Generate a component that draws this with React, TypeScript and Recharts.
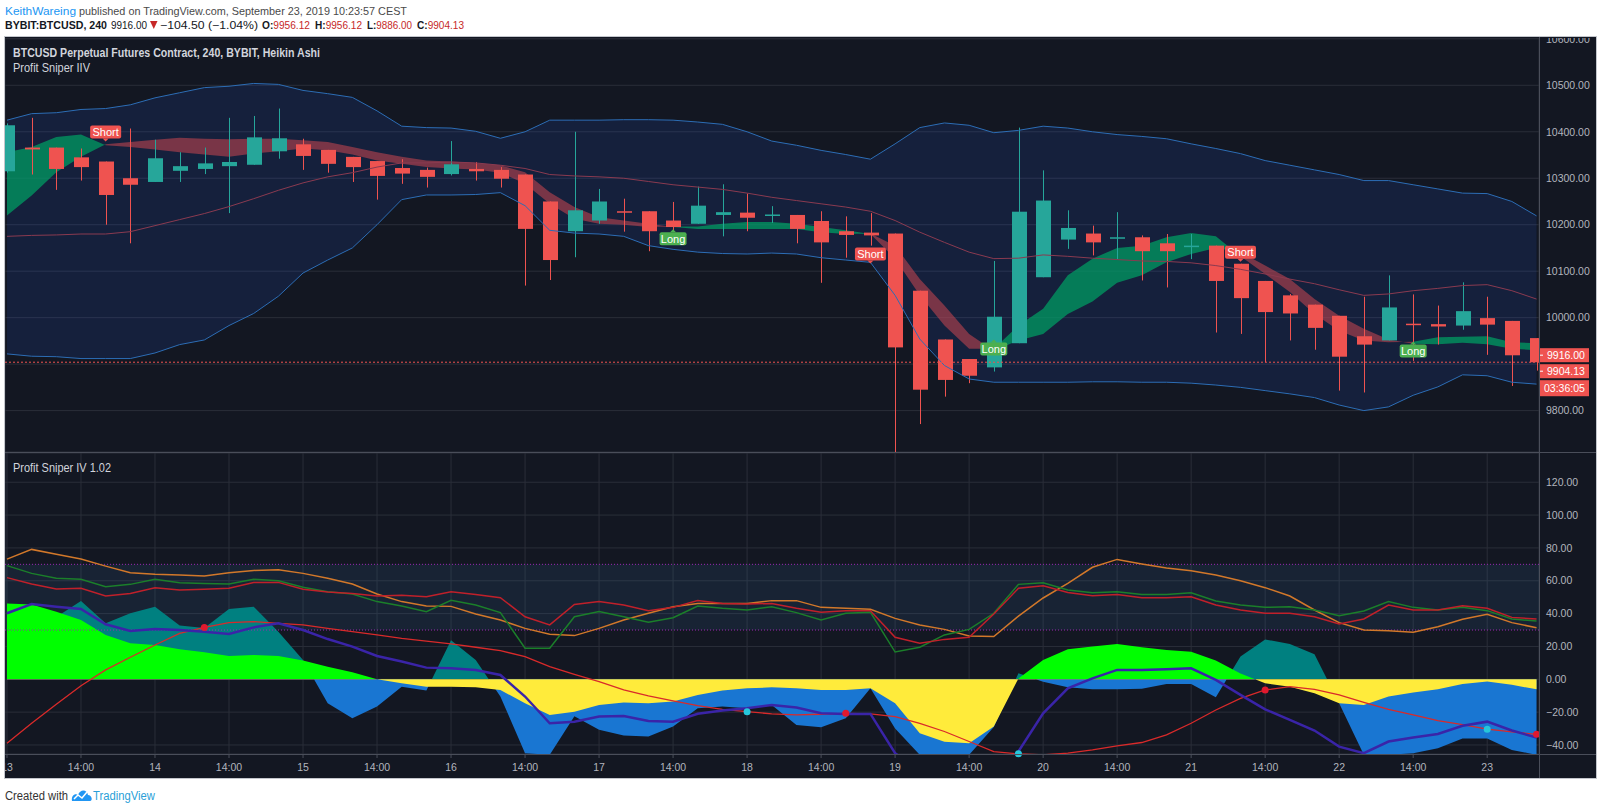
import React from 'react';
import {
  Area,
  Bar,
  CartesianGrid,
  ComposedChart,
  Line,
  ReferenceArea,
  ReferenceDot,
  ReferenceLine,
  XAxis,
  YAxis
} from 'recharts';

const FONT = "'Liberation Sans', Arial, sans-serif";
const BG = '#131722';
const GRID = '#2a2e39';
const SEP = '#4a4e5a';
const AXIS_TEXT = '#b2b5be';

// 4h Heikin Ashi bars, 13 Sep → 23 Sep
const barIndex = Array.from({ length: 63 }, (_, i) => i);
const timeTicks = [0, 3, 6, 9, 12, 15, 18, 21, 24, 27, 30, 33, 36, 39, 42, 45, 48, 51, 54, 57, 60];
const timeLabels = ['13', '14:00', '14', '14:00', '15', '14:00', '16', '14:00', '17', '14:00', '18',
  '14:00', '19', '14:00', '20', '14:00', '21', '14:00', '22', '14:00', '23'];

const haOpen = [10315, 10366, 10366, 10345, 10336, 10300, 10292, 10316, 10320, 10326, 10329, 10358, 10373,
  10361, 10346, 10337, 10322, 10318, 10309, 10320, 10318, 10308, 10250, 10186, 10209, 10229, 10229, 10209,
  10202, 10221, 10226, 10219, 10221, 10208, 10186, 10183, 10181, 10058, 9953, 9911, 9893, 9945, 10087,
  10168, 10181, 10170, 10173, 10160, 10152, 10155, 10116, 10079, 10048, 10028, 10004, 9960, 9951, 9987,
  9986, 9983, 9999, 9993, 9956];
const haHigh = [10418, 10430, 10366, 10364, 10336, 10407, 10383, 10356, 10366, 10430, 10434, 10450, 10385,
  10361, 10346, 10337, 10341, 10323, 10380, 10335, 10324, 10308, 10250, 10400, 10277, 10256, 10229, 10249,
  10282, 10287, 10267, 10240, 10221, 10229, 10218, 10225, 10181, 10058, 9953, 9911, 10122, 10409, 10317,
  10231, 10198, 10227, 10177, 10180, 10180, 10155, 10116, 10079, 10051, 10028, 10004, 10045, 10091, 10050,
  10026, 10076, 10045, 9993, 9956];
const haLow = [10312, 10308, 10275, 10295, 10200, 10160, 10292, 10292, 10309, 10225, 10329, 10342, 10318,
  10312, 10292, 10254, 10288, 10280, 10306, 10295, 10280, 10069, 10081, 10130, 10202, 10185, 10143, 10184,
  10202, 10175, 10186, 10204, 10160, 10075, 10129, 10155, 9700, 9771, 9830, 9859, 9884, 9945, 10087, 10148,
  10134, 10126, 10080, 10065, 10126, 9968, 9965, 9904, 9951, 9931, 9843, 9839, 9951, 9907, 9942, 9974, 9920,
  9853, 9886];
const haClose = [10414, 10362, 10320, 10324, 10264, 10286, 10343, 10326, 10332, 10335, 10388, 10386, 10348,
  10331, 10324, 10305, 10310, 10303, 10330, 10315, 10299, 10191, 10124, 10231, 10250, 10226, 10186, 10195,
  10241, 10227, 10215, 10222, 10191, 10162, 10178, 10177, 9936, 9845, 9866, 9875, 10002, 10228, 10252,
  10193, 10162, 10173, 10143, 10143, 10155, 10079, 10042, 10012, 10009, 9978, 9916, 9942, 10022, 9984,
  9981, 10014, 9985, 9919, 9904];

// Bollinger envelope
const bbUpper = [10425, 10439, 10441, 10448, 10450, 10458, 10473, 10484, 10495, 10498, 10504, 10502, 10489,
  10482, 10474, 10445, 10412, 10409, 10408, 10401, 10386, 10400, 10425, 10425, 10425, 10426, 10426, 10425,
  10421, 10416, 10400, 10380, 10371, 10360, 10351, 10341, 10374, 10409, 10419, 10414, 10398, 10403, 10412,
  10408, 10400, 10394, 10390, 10385, 10374, 10364, 10353, 10338, 10328, 10318, 10308, 10295, 10295, 10286,
  10277, 10268, 10267, 10250, 10219];
const bbLower = [9922, 9917, 9916, 9912, 9912, 9912, 9924, 9942, 9952, 9983, 10009, 10046, 10096, 10124,
  10150, 10200, 10254, 10264, 10264, 10265, 10269, 10241, 10188, 10182, 10180, 10175, 10155, 10147, 10141,
  10138, 10137, 10139, 10137, 10129, 10124, 10119, 10048, 9954, 9897, 9868, 9861, 9861, 9861, 9861, 9862,
  9862, 9861, 9861, 9859, 9855, 9850, 9843, 9836, 9828, 9812, 9800, 9808, 9833, 9851, 9877, 9875, 9861, 9857];
const bbBasis = [10175, 10177, 10178, 10180, 10180, 10185, 10198, 10211, 10224, 10239, 10256, 10274, 10290,
  10303, 10312, 10324, 10333, 10333, 10335, 10333, 10328, 10321, 10308, 10305, 10303, 10300, 10293, 10286,
  10281, 10276, 10268, 10259, 10252, 10245, 10238, 10229, 10209, 10184, 10162, 10141, 10127, 10128, 10135,
  10132, 10128, 10125, 10122, 10121, 10118, 10112, 10104, 10094, 10083, 10073, 10060, 10048, 10051, 10058,
  10063, 10069, 10071, 10058, 10040];

// Profit Sniper IIV ribbon
const fastMa = [10356, 10367, 10389, 10394, 10371, 10367, 10362, 10356, 10351, 10346, 10353, 10358, 10364,
  10360, 10351, 10338, 10331, 10324, 10321, 10319, 10312, 10288, 10245, 10213, 10202, 10200, 10195, 10196,
  10196, 10202, 10206, 10206, 10202, 10195, 10188, 10180, 10127, 10048, 9983, 9933, 9933, 9983, 10019,
  10091, 10127, 10150, 10155, 10173, 10182, 10175, 10132, 10094, 10055, 10008, 9972, 9951, 9947, 9948, 9958,
  9959, 9960, 9947, 9945];
const slowMa = [10220, 10263, 10313, 10346, 10373, 10378, 10383, 10387, 10385, 10384, 10385, 10385, 10382,
  10378, 10367, 10356, 10346, 10338, 10336, 10333, 10328, 10313, 10270, 10238, 10216, 10209, 10202, 10195,
  10191, 10191, 10191, 10191, 10191, 10184, 10180, 10181, 10155, 10083, 10026, 9965, 9929, 9951, 9965,
  10008, 10035, 10075, 10091, 10119, 10137, 10150, 10141, 10112, 10083, 10040, 10004, 9976, 9953, 9944,
  9943, 9946, 9943, 9933, 9930];

const signalBars = [4, 27, 35, 40, 50, 57];
const signalText = ['Short', 'Long', 'Short', 'Long', 'Short', 'Long'];
const signalPrice = [10399.5, 10170, 10137, 9932.5, 10141, 9928];

const priceTicks = [9800, 9900, 10000, 10100, 10200, 10300, 10400, 10500, 10600];

// Profit Sniper IV 1.02 oscillator
const oscOrange = [73.2, 79.1, 76.1, 73.2, 68.9, 64.9, 63.9, 63.5, 62.9, 64.9, 66.3, 66.7, 64.5, 61.5, 58.0,
  51.9, 47.3, 44.6, 44.4, 39.8, 36.1, 31.0, 27.4, 26.6, 31.0, 36.1, 40.2, 44.2, 46.2, 46.2, 46.2, 47.9, 47.9,
  43.8, 43.2, 42.6, 37.1, 33.1, 30.4, 26.4, 26.0, 38.5, 49.5, 58.4, 68.2, 73.0, 70.2, 67.7, 66.1, 63.5, 60.0,
  55.8, 50.7, 42.2, 34.5, 30.0, 29.6, 28.6, 32.0, 36.5, 39.6, 34.5, 31.4];
const oscGreen = [69.2, 64.5, 61.5, 60.9, 56.4, 57.8, 60.9, 58.8, 58.4, 58.0, 60.9, 60.0, 56.0, 53.3, 51.9,
  47.3, 44.6, 41.2, 48.1, 45.2, 40.6, 18.9, 18.9, 38.1, 41.2, 38.1, 34.7, 37.5, 44.6, 43.2, 42.2, 44.2, 40.6,
  36.1, 40.2, 40.8, 16.6, 19.5, 27.0, 30.4, 40.2, 57.8, 58.8, 54.4, 52.7, 53.3, 51.7, 51.7, 52.7, 47.7, 45.2,
  43.8, 44.2, 42.2, 38.7, 41.6, 47.3, 43.8, 42.2, 43.8, 41.8, 36.7, 35.5];
const oscRed = [61.9, 58.0, 55.0, 55.4, 50.7, 52.3, 55.8, 54.4, 54.8, 55.4, 59.0, 59.0, 54.8, 53.1, 52.3,
  50.7, 51.1, 50.3, 53.3, 51.7, 49.7, 38.1, 33.1, 45.6, 47.3, 45.2, 41.8, 43.8, 47.9, 46.2, 45.8, 46.2, 43.2,
  40.8, 41.8, 41.8, 25.6, 21.9, 24.3, 25.6, 39.8, 55.4, 56.9, 52.9, 50.9, 51.7, 49.7, 49.7, 50.3, 45.2, 42.2,
  40.2, 40.2, 38.1, 33.7, 36.7, 45.2, 42.2, 42.2, 44.8, 43.2, 37.7, 36.7];
const oscPurple = [40.2, 45.8, 44.2, 42.8, 33.5, 29.4, 30.6, 30.0, 29.0, 27.6, 31.6, 34.1, 30.0, 24.5, 19.9,
  14.2, 10.8, 7.1, 6.7, 5.7, 2.6, -10.5, -26.8, -25.8, -22.7, -22.3, -25.4, -25.8, -21.0, -19.0, -17.6,
  -15.6, -17.2, -20.7, -21.1, -21.1, -45.0, -56.0, -60.0, -62.0, -58.0, -44.0, -20.7, -5.5, 0.6, 5.7, 5.7,
  6.1, 6.7, -0.4, -9.5, -18.3, -24.7, -31.2, -41.0, -45.0, -37.9, -35.5, -33.3, -28.3, -25.8, -31.2, -35.5];
const oscSignal = [-38.9, -26.8, -15.2, -3.9, 5.7, 13.4, 20.9, 28.0, 31.6, 34.5, 35.1, 34.1, 33.1, 31.0,
  29.0, 27.0, 24.9, 23.3, 21.5, 19.5, 17.4, 13.8, 7.7, 3.0, -1.4, -6.5, -10.1, -13.2, -16.0, -18.3, -19.7,
  -21.1, -21.7, -21.3, -20.7, -21.1, -22.7, -26.8, -31.8, -37.9, -44.0, -45.4, -46.0, -45.0, -43.0, -40.6,
  -38.5, -33.9, -26.8, -18.7, -11.6, -6.5, -4.5, -6.1, -9.5, -14.0, -18.3, -21.7, -25.2, -27.6, -30.4,
  -32.0, -33.5];
const oscTrend = [46.2, 45.6, 41.2, 36.1, 27.0, 21.9, 20.9, 18.3, 16.4, 14.2, 14.8, 14.2, 11.4, 7.7, 4.3,
  0.0, -2.4, -4.5, -4.5, -4.9, -6.5, -14.6, -21.7, -19.7, -15.6, -14.2, -14.6, -13.6, -9.5, -6.9, -5.5,
  -4.9, -5.5, -6.5, -6.5, -5.5, -14.6, -32.9, -38.0, -39.0, -28.8, 0.5, 11.8, 18.3, 19.9, 21.5, 19.5, 17.8,
  16.8, 11.4, 3.5, -2.4, -4.5, -8.5, -14.6, -15.6, -10.5, -8.1, -6.1, -2.8, -1.4, -3.4, -6.1];
const oscWave = [38, 42, 38, 47.7, 34.1, 40.2, 44.2, 32.7, 31.2, 42.8, 44.2, 29.0, 11.8, -14.6, -23.7, -16.6,
  -4.5, -6.9, 23.7, 11.8, -10.5, -45, -46, -22.5, -30.8, -34.3, -34.9, -28.8, -17.6, -16.6, -17.6, -15.6,
  -27.8, -29.2, -23.7, -5.5, -30, -46, -46, -46, -29, 3.6, -1.5, -4.9, -6.1, -6.1, -5.7, -2.8, -2.8, -11.0,
  13.8, 24.3, 21.5, 15.2, -14.6, -46, -46, -45, -42, -36, -36, -43, -46];

const crossBars = [8, 30, 34, 41, 51, 60, 62];
const crossUp = [false, true, false, true, false, true, false];

const oscTicks = [-40, -20, 0, 20, 40, 60, 80, 100, 120];

// header OHLC groups: label, value, left, right
const ohlcGroups: [string, string, number, number][] = [
  ['O:', '9956.12', 262, 310],
  ['H:', '9956.12', 315, 362],
  ['L:', '9886.00', 367, 412],
  ['C:', '9904.13', 417, 464]
];

// scale windows
const PMIN = 9710.9;
const PMAX = 10601.8;
const OMIN = -45.5;
const OMAX = 137.8;
const XMIN = -0.08;
const XMAX = 62.1;
const ZERO_OFF = OMAX / (OMAX - OMIN);

const priceRows = barIndex.map((i) => {
  const isUp = (k: number) => fastMa[k] >= slowMa[k];
  const band: [number, number] = [slowMa[i], fastMa[i]];
  return {
    i,
    o: haOpen[i],
    h: haHigh[i],
    l: haLow[i],
    c: haClose[i],
    bb: [bbLower[i], bbUpper[i]],
    upper: bbUpper[i],
    lower: bbLower[i],
    basis: bbBasis[i],
    ribbonUp: isUp(i) || (i > 0 && isUp(i - 1)) ? band : null,
    ribbonDn: !isUp(i) || (i > 0 && !isUp(i - 1)) ? band : null
  };
});

const oscRows = barIndex.map((i) => ({
  i,
  orange: oscOrange[i],
  green: oscGreen[i],
  red: oscRed[i],
  purple: oscPurple[i],
  signal: oscSignal[i],
  trend: oscTrend[i],
  wave: oscWave[i]
}));

function Candle(props: any) {
  const { x, y, width, height, payload } = props;
  if (!payload || x == null || y == null) return null;
  const top = Math.min(y, y + height);
  const bot = Math.max(y, y + height);
  const span = payload.h - payload.l;
  const py = (p: number) => (span === 0 ? top : top + ((payload.h - p) / span) * (bot - top));
  const color = payload.c >= payload.o ? '#26a69a' : '#ef5350';
  const cx = Math.round(x + width / 2) + 0.5;
  const bTop = py(Math.max(payload.o, payload.c));
  const bBot = py(Math.min(payload.o, payload.c));
  return (
    <g>
      <line x1={cx} x2={cx} y1={top} y2={bot} stroke={color} strokeWidth={1} />
      <rect x={cx - 7.5} y={bTop} width={15} height={Math.max(1.5, bBot - bTop)} fill={color} />
    </g>
  );
}

function SignalTag({ cx, cy, text }: { cx?: number; cy?: number; text: string }) {
  if (cx == null || cy == null) return null;
  const isShort = text === 'Short';
  const w = isShort ? 31 : 27;
  const h = 13;
  const fill = isShort ? '#ef5350' : '#4caf50';
  const tip = isShort
    ? `M${cx - 3},${cy + h / 2} L${cx + 3},${cy + h / 2} L${cx},${cy + h / 2 + 3} Z`
    : `M${cx - 3},${cy - h / 2} L${cx + 3},${cy - h / 2} L${cx},${cy - h / 2 - 3} Z`;
  return (
    <g>
      <rect x={cx - w / 2} y={cy - h / 2} width={w} height={h} rx={2} fill={fill} />
      <path d={tip} fill={fill} />
      <text x={cx} y={cy} dy='0.35em' textAnchor='middle' fontSize={11} fill='#ffffff' fontFamily={FONT}>
        {text}
      </text>
    </g>
  );
}

function PriceTag(props: any) {
  const { viewBox, text, shift, countdown } = props;
  if (!viewBox) return null;
  const left = viewBox.x + viewBox.width;
  const cy = viewBox.y + shift;
  return (
    <g>
      <rect x={left} y={cy - 7} width={50} height={14} fill='#ef5350' />
      <line x1={left + 1} x2={left + 4} y1={cy} y2={cy} stroke='#ffffff' strokeWidth={1} />
      <text x={left + 8} y={cy} dy='0.35em' fontSize={10.5} fill='#ffffff' fontFamily={FONT}>
        {text}
      </text>
      {countdown ? (
        <g>
          <rect x={left} y={cy + 9} width={50} height={16} fill='#ef5350' />
          <text x={left + 5} y={cy + 17} dy='0.35em' fontSize={10.5} fill='#ffffff' fontFamily={FONT}>
            {countdown}
          </text>
        </g>
      ) : null}
    </g>
  );
}

const fmtOsc = (v: number) => (v < 0 ? '\u2212' + Math.abs(v).toFixed(2) : v.toFixed(2));

export default function App() {
  return (
    <div
      style={{
        position: 'absolute',
        left: 0,
        top: 0,
        width: 1600,
        height: 811,
        background: '#ffffff',
        overflow: 'hidden',
        fontFamily: FONT
      }}
    >
      <div
        style={{
          position: 'absolute',
          left: 5,
          top: 37,
          width: 1591,
          height: 741,
          background: BG,
          boxShadow: '0 0 0 1px #c3c6cc'
        }}
      />

      {/* price pane */}
      <div style={{ position: 'absolute', left: 5, top: 38 }}>
        <ComposedChart width={1590} height={415} data={priceRows} margin={{ top: 0, right: 0, bottom: 0, left: 0 }}>
          <CartesianGrid stroke={GRID} />
          <XAxis
            dataKey='i'
            type='number'
            domain={[XMIN, XMAX]}
            allowDataOverflow
            ticks={timeTicks}
            interval={0}
            height={1}
            tick={false}
            axisLine={false}
            tickLine={false}
          />
          <YAxis
            orientation='right'
            domain={[PMIN, PMAX]}
            allowDataOverflow
            ticks={priceTicks}
            interval={0}
            tickFormatter={(v: number) => (v === 9900 ? '' : v.toFixed(2))}
            width={56}
            axisLine={false}
            tickLine={false}
            tickSize={4}
            tickMargin={3}
            tick={{ fill: AXIS_TEXT, fontSize: 10.5, fontFamily: FONT }}
          />
          <Area
            dataKey='bb'
            type='linear'
            stroke='none'
            fill='#2962ff'
            fillOpacity={0.12}
            isAnimationActive={false}
          />
          <Line dataKey='upper' type='linear' stroke='#2c6db5' strokeWidth={1} dot={false} activeDot={false} isAnimationActive={false} />
          <Line dataKey='lower' type='linear' stroke='#2c6db5' strokeWidth={1} dot={false} activeDot={false} isAnimationActive={false} />
          <Area
            dataKey='ribbonUp'
            type='linear'
            stroke='none'
            fill='#00a064'
            fillOpacity={0.72}
            isAnimationActive={false}
          />
          <Area
            dataKey='ribbonDn'
            type='linear'
            stroke='none'
            fill='#c84650'
            fillOpacity={0.56}
            isAnimationActive={false}
          />
          <Line dataKey='basis' type='linear' stroke='#8a3a50' strokeWidth={1} dot={false} activeDot={false} isAnimationActive={false} />
          <ReferenceLine y={9916} stroke='none' label={<PriceTag text='9916.00' shift={-1.5} />} />
          <ReferenceLine
            y={9904.13}
            stroke='#ef5350'
            strokeDasharray='2 2'
            label={<PriceTag text='9904.13' shift={9} countdown='03:36:05' />}
          />
          {signalBars.map((b, k) => (
            <ReferenceDot
              key={`sig-${b}`}
              x={b}
              y={signalPrice[k]}
              r={0}
              shape={(p: any) => <SignalTag cx={p.cx} cy={p.cy} text={signalText[k]} />}
            />
          ))}
          <Bar dataKey={(d: any) => [d.l, d.h]} barSize={15} shape={<Candle />} isAnimationActive={false} />
        </ComposedChart>
      </div>

      <div style={{ position: 'absolute', left: 5, top: 452, width: 1591, height: 1, background: SEP }} />

      {/* oscillator pane */}
      <div style={{ position: 'absolute', left: 5, top: 453 }}>
        <ComposedChart width={1590} height={325} data={oscRows} margin={{ top: 0, right: 0, bottom: 0, left: 0 }}>
          <defs>
            <linearGradient id='trendFill' gradientUnits='userSpaceOnUse' x1={0} y1={0} x2={0} y2={301}>
              <stop offset={ZERO_OFF} stopColor='#00ff00' />
              <stop offset={ZERO_OFF} stopColor='#ffeb3b' />
            </linearGradient>
            <linearGradient id='waveFill' gradientUnits='userSpaceOnUse' x1={0} y1={0} x2={0} y2={301}>
              <stop offset={ZERO_OFF} stopColor='#008080' />
              <stop offset={ZERO_OFF} stopColor='#1976d2' />
            </linearGradient>
          </defs>
          <CartesianGrid stroke={GRID} />
          <XAxis
            dataKey='i'
            type='number'
            domain={[XMIN, XMAX]}
            allowDataOverflow
            ticks={timeTicks}
            interval={0}
            tickFormatter={(v: number) => timeLabels[timeTicks.indexOf(v)] ?? ''}
            height={24}
            axisLine={false}
            tickLine={{ stroke: SEP }}
            tickSize={4}
            tickMargin={6}
            tick={{ fill: AXIS_TEXT, fontSize: 10.5, fontFamily: FONT }}
          />
          <YAxis
            orientation='right'
            domain={[OMIN, OMAX]}
            allowDataOverflow
            ticks={oscTicks}
            interval={0}
            tickFormatter={fmtOsc}
            width={56}
            axisLine={false}
            tickLine={false}
            tickSize={4}
            tickMargin={3}
            tick={{ fill: AXIS_TEXT, fontSize: 10.5, fontFamily: FONT }}
          />
          <ReferenceArea y1={30} y2={70} fill='#3c6ea0' fillOpacity={0.14} stroke='none' />
          <Area dataKey='wave' type='linear' baseValue={0} stroke='none' fill='url(#waveFill)' fillOpacity={1} isAnimationActive={false} />
          <Area dataKey='trend' type='linear' baseValue={0} stroke='none' fill='url(#trendFill)' fillOpacity={1} isAnimationActive={false} />
          <ReferenceLine y={70} stroke='#9c27b0' strokeDasharray='1 2' />
          <ReferenceLine y={30} stroke='#9c27b0' strokeDasharray='1 2' />
          <Line dataKey='orange' type='linear' stroke='#d2782a' strokeWidth={1.5} dot={false} activeDot={false} isAnimationActive={false} />
          <Line dataKey='green' type='linear' stroke='#1b7f2a' strokeWidth={1.5} dot={false} activeDot={false} isAnimationActive={false} />
          <Line dataKey='red' type='linear' stroke='#c0202a' strokeWidth={1.5} dot={false} activeDot={false} isAnimationActive={false} />
          <Line dataKey='signal' type='linear' stroke='#d92a2a' strokeWidth={1.3} dot={false} activeDot={false} isAnimationActive={false} />
          <Line dataKey='purple' type='linear' stroke='#3a24a8' strokeWidth={2.5} dot={false} activeDot={false} isAnimationActive={false} />
          {crossBars.map((b, k) => (
            <ReferenceDot
              key={`x-${b}`}
              x={b}
              y={oscSignal[b]}
              r={3.5}
              fill={crossUp[k] ? '#26c6da' : '#e0192e'}
              stroke='none'
            />
          ))}
        </ComposedChart>
      </div>

      <div style={{ position: 'absolute', left: 5, top: 754, width: 1591, height: 1, background: SEP }} />
      <div style={{ position: 'absolute', left: 1539, top: 37, width: 1, height: 741, background: SEP }} />

      <svg
        width={1600}
        height={811}
        style={{ position: 'absolute', left: 0, top: 0, pointerEvents: 'none' }}
        fontFamily={FONT}
      >
        <text x={5} y={15} fontSize={11.5} fill='#2196f3' textLength={71} lengthAdjust='spacingAndGlyphs'>
          KeithWareing
        </text>
        <text x={79} y={15} fontSize={11.5} fill='#4a4a4a' textLength={328} lengthAdjust='spacingAndGlyphs'>
          published on TradingView.com, September 23, 2019 10:23:57 CEST
        </text>

        <text x={5} y={29} fontSize={10.5} fontWeight='bold' fill='#131722' textLength={102} lengthAdjust='spacingAndGlyphs'>
          BYBIT:BTCUSD, 240
        </text>
        <text x={111} y={29} fontSize={10.5} fill='#131722' textLength={36} lengthAdjust='spacingAndGlyphs'>
          9916.00
        </text>
        {/* down arrow of the change figure */}
        <path d='M150,21 L157.5,21 L153.75,29 Z' fill='#c62828' />
        <text x={160} y={29} fontSize={10.5} fill='#131722' textLength={98} lengthAdjust='spacingAndGlyphs'>
          {'\u2212104.50 (\u22121.04%)'}
        </text>
        {ohlcGroups.map(([lab, val, x0, x1]) => (
          <text key={lab} x={x0} y={29} fontSize={10.5} textLength={x1 - x0} lengthAdjust='spacingAndGlyphs'>
            <tspan fill='#131722' fontWeight='bold'>{lab}</tspan>
            <tspan fill='#c62828'>{val}</tspan>
          </text>
        ))}

        <text x={13} y={57} fontSize={12} fontWeight='bold' fill='#d1d4dc' textLength={307} lengthAdjust='spacingAndGlyphs'>
          BTCUSD Perpetual Futures Contract, 240, BYBIT, Heikin Ashi
        </text>
        <text x={13} y={72} fontSize={12} fill='#d1d4dc' textLength={77} lengthAdjust='spacingAndGlyphs'>
          Profit Sniper IIV
        </text>
        <text x={13} y={472} fontSize={12} fill='#d1d4dc' textLength={98} lengthAdjust='spacingAndGlyphs'>
          Profit Sniper IV 1.02
        </text>

        <text x={5} y={799.5} fontSize={12.5} fill='#333333' textLength={63} lengthAdjust='spacingAndGlyphs'>
          Created with
        </text>
        <path
          d='M72,801 C71,796 75,793 78,795 C80,789 87,789 88,795 C92,795 93,801 90,801 Z'
          fill='#2196f3'
        />
        <polyline points='74,799 78,795 82,798 87,792' fill='none' stroke='#ffffff' strokeWidth={1.5} />
        <text x={93} y={799.5} fontSize={12.5} fill='#2a9fd8' textLength={62} lengthAdjust='spacingAndGlyphs'>
          TradingView
        </text>
      </svg>
    </div>
  );
}
